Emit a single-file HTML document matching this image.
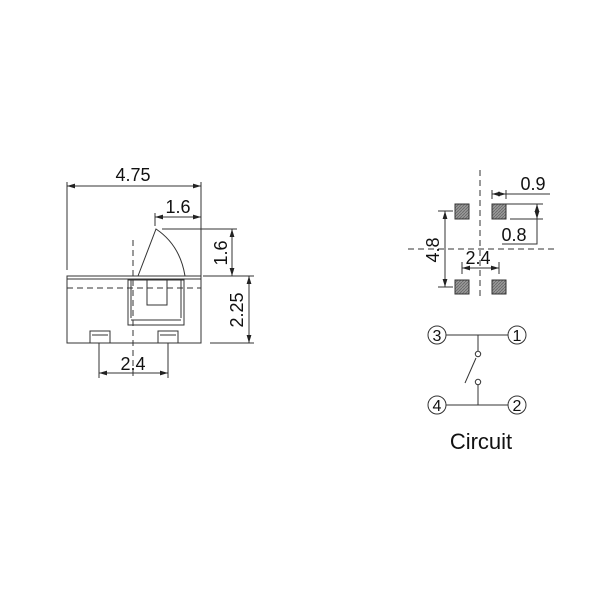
<!DOCTYPE html>
<html><head><style>body{margin:0;background:#fff}svg{display:block}text{font-family:"Liberation Sans",sans-serif;fill:#111}</style></head>
<body>
<svg width="600" height="600" viewBox="0 0 600 600">
<defs>
<marker id="a" viewBox="0 0 10 6" refX="10" refY="3" markerWidth="8" markerHeight="5" orient="auto-start-reverse" markerUnits="userSpaceOnUse"><path d="M0,0L10,3L0,6z" fill="#222"/></marker>
<pattern id="h" width="3" height="3" patternUnits="userSpaceOnUse"><rect width="3" height="3" fill="#999"/><path d="M0,3L3,0" stroke="#666" stroke-width="0.8"/></pattern>
</defs>
<g stroke="#333" stroke-width="1" fill="none">
<line x1="67" y1="182" x2="67" y2="270"/>
<line x1="201" y1="182" x2="201" y2="276"/>
<line x1="67" y1="186" x2="201" y2="186" marker-start="url(#a)" marker-end="url(#a)"/>
<rect x="67" y="276" width="134" height="67"/>
<line x1="67" y1="279" x2="201" y2="279"/>
<line x1="67" y1="288" x2="201" y2="288" stroke-dasharray="6,4"/>
<rect x="128" y="280" width="56" height="45"/>
<line x1="131" y1="320" x2="181" y2="320"/>
<path d="M131,280 V318 M181,280 V318"/>
<rect x="147" y="280" width="20" height="25"/>
<path d="M138,276 L156,229 Q180,245 185,276"/>
<line x1="133" y1="240" x2="133" y2="378" stroke-dasharray="6,4"/>
<rect x="90" y="331" width="20" height="12"/>
<rect x="158" y="331" width="20" height="12"/>
<line x1="92" y1="335" x2="108" y2="335"/><line x1="160" y1="335" x2="176" y2="335"/>
<line x1="155" y1="213" x2="155" y2="226"/>
<line x1="155" y1="217" x2="201" y2="217" marker-start="url(#a)" marker-end="url(#a)"/>
<line x1="162" y1="229" x2="237" y2="229"/>
<line x1="203" y1="276" x2="254" y2="276"/>
<line x1="232" y1="229" x2="232" y2="276" marker-start="url(#a)" marker-end="url(#a)"/>
<line x1="210" y1="343" x2="254" y2="343"/>
<line x1="249" y1="276" x2="249" y2="343" marker-start="url(#a)" marker-end="url(#a)"/>
<line x1="99" y1="343" x2="99" y2="378"/>
<line x1="168" y1="343" x2="168" y2="378"/>
<line x1="99" y1="373" x2="168" y2="373" marker-start="url(#a)" marker-end="url(#a)"/>
<line x1="480" y1="170" x2="480" y2="300" stroke-dasharray="6,4"/>
<line x1="408" y1="249" x2="555" y2="249" stroke-dasharray="6,4"/>
<line x1="492" y1="190" x2="492" y2="199"/><line x1="506" y1="190" x2="506" y2="199"/>
<line x1="492" y1="194" x2="506" y2="194" marker-start="url(#a)" marker-end="url(#a)"/>
<line x1="506" y1="194" x2="550" y2="194"/>
<line x1="506" y1="204" x2="543" y2="204"/>
<line x1="510" y1="219" x2="543" y2="219"/>
<line x1="537" y1="204" x2="537" y2="219" marker-start="url(#a)" marker-end="url(#a)"/>
<path d="M537,219 V244 H502"/>
<line x1="438" y1="211" x2="453" y2="211"/><line x1="438" y1="287" x2="453" y2="287"/>
<line x1="445" y1="211" x2="445" y2="287" marker-start="url(#a)" marker-end="url(#a)"/>
<line x1="462" y1="262" x2="462" y2="274"/><line x1="499" y1="262" x2="499" y2="274"/>
<line x1="462" y1="268" x2="499" y2="268" marker-start="url(#a)" marker-end="url(#a)"/>
<rect x="455" y="204" width="14" height="15" fill="url(#h)"/>
<rect x="492" y="204" width="14" height="15" fill="url(#h)"/>
<rect x="455" y="280" width="14" height="14" fill="url(#h)"/>
<rect x="492" y="280" width="14" height="14" fill="url(#h)"/>
<line x1="446" y1="335" x2="508" y2="335"/>
<line x1="446" y1="405" x2="508" y2="405"/>
<line x1="478" y1="335" x2="478" y2="351"/>
<line x1="478" y1="385" x2="478" y2="405"/>
<circle cx="478" cy="354" r="2.7" fill="#fff"/>
<circle cx="478" cy="382" r="2.7" fill="#fff"/>
<line x1="465" y1="383" x2="476" y2="358"/>
<circle cx="437" cy="335" r="9"/><circle cx="517" cy="335" r="9"/>
<circle cx="437" cy="405" r="9"/><circle cx="517" cy="405" r="9"/>
</g>
<g font-size="18">
<text x="133" y="181" text-anchor="middle">4.75</text>
<text x="178" y="213" text-anchor="middle">1.6</text>
<text x="133" y="370" text-anchor="middle">2.4</text>
<text transform="translate(227,253) rotate(-90)" text-anchor="middle">1.6</text>
<text transform="translate(243,310) rotate(-90)" text-anchor="middle">2.25</text>
<text x="533" y="190" text-anchor="middle">0.9</text>
<text x="514" y="241" text-anchor="middle">0.8</text>
<text x="478" y="264" text-anchor="middle">2.4</text>
<text transform="translate(439,250) rotate(-90)" text-anchor="middle">4.8</text>
</g>
<g font-size="16" text-anchor="middle">
<text x="437" y="341">3</text><text x="517" y="341">1</text>
<text x="437" y="411">4</text><text x="517" y="411">2</text>
</g>
<text x="481" y="449" font-size="22" text-anchor="middle">Circuit</text>
</svg>
</body></html>
